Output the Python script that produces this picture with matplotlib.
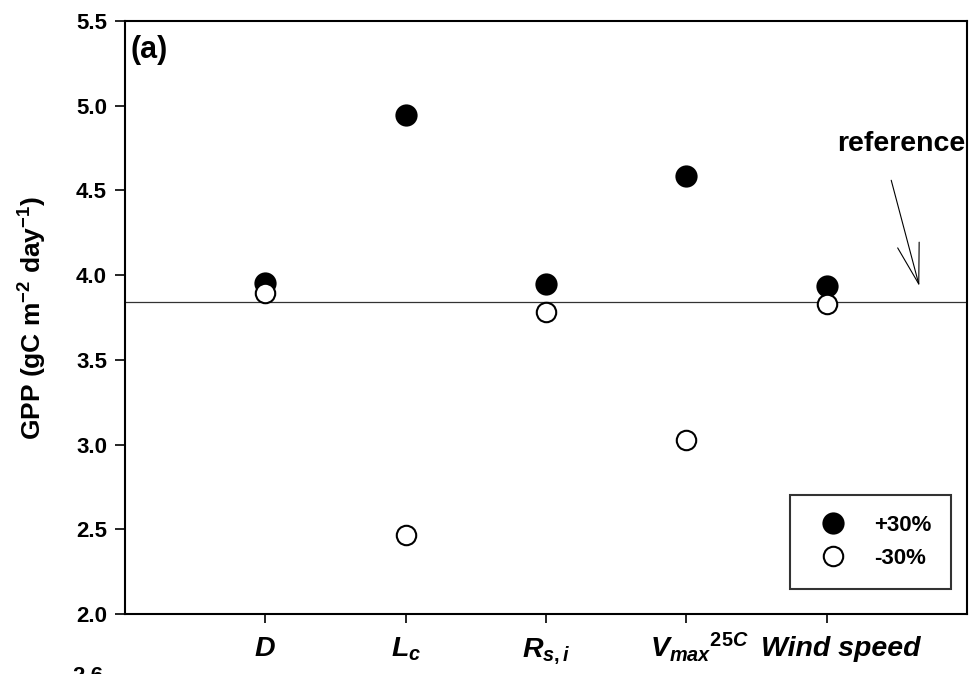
import numpy as np
import matplotlib
matplotlib.use('Agg')
import matplotlib.pyplot as plt
from matplotlib.transforms import ScaledTranslation

plt.rcParams['font.family'] = ['Liberation Sans', 'DejaVu Sans']
plt.rcParams['font.weight'] = 'bold'
plt.rcParams['mathtext.fontset'] = 'custom'
plt.rcParams['mathtext.rm'] = 'Liberation Sans:bold'
plt.rcParams['mathtext.it'] = 'Liberation Sans:bold:italic'
plt.rcParams['mathtext.bf'] = 'Liberation Sans:bold'

# data
params = ['$D$', '$L_c$', '$R_{s,i}$', '$V_{max}{}^{25C}$', 'Wind speed']
xpos = [1, 2, 3, 4, 5]
gpp_plus = [3.954, 4.945, 3.948, 4.585, 3.936]
gpp_minus = [3.895, 2.466, 3.782, 3.027, 3.830]
gpp_ref = 3.843
yticks = [2.0, 2.5, 3.0, 3.5, 4.0, 4.5, 5.0, 5.5]

fig = plt.figure(figsize=(9.72, 6.74), dpi=100)
ax = fig.add_axes([125/972, 1-614/674, 842/972, 593/674])

ax.axhline(gpp_ref, color='#333333', lw=0.9, zorder=1)
ax.plot(xpos, gpp_plus, 'o', ms=14.5, mfc='black', mec='black', mew=1.5, label='+30%', zorder=3)
ax.plot(xpos, gpp_minus, 'o', ms=14, mfc='white', mec='black', mew=1.5, label='-30%', zorder=3)

ax.set_xlim(0, 6)
ax.set_ylim(2.0, 5.5)
ax.set_yticks(yticks)
ax.set_yticklabels(['%.1f' % v for v in yticks], fontsize=16, fontweight='bold')
ax.set_xticks(xpos)
ax.set_xticklabels(params, fontsize=20.5, fontweight='bold', style='italic', va='baseline')
ax.tick_params(axis='y', direction='out', length=7, width=1.2, pad=6)
ax.tick_params(axis='x', direction='out', length=6.5, width=1.2, pad=24)
for s in ax.spines.values():
    s.set_linewidth(1.5)

# the last two labels sit a bit right of their ticks in the original
shift_px = [0, 0, 0, 13, 14]
for lbl, dx in zip(ax.get_xticklabels(), shift_px):
    if dx:
        lbl.set_transform(lbl.get_transform() + ScaledTranslation(dx/100, 0, fig.dpi_scale_trans))

ax.set_ylabel('GPP (gC m$^{-2}$ day$^{-1}$)', fontsize=19, fontweight='bold')
ax.yaxis.set_label_coords(-0.09, 0.5)

ax.text(0.007, 0.977, '(a)', transform=ax.transAxes, fontsize=22, fontweight='bold', va='top', ha='left')

ax.annotate('', xy=(5.66, 3.936), xytext=(5.46, 4.56),
            arrowprops=dict(arrowstyle='->,head_length=2.9,head_width=0.8', mutation_scale=10,
                            lw=0.8, color='black', shrinkA=0, shrinkB=0))
ax.text(5.53, 4.73, 'reference', fontsize=20.5, fontweight='bold', ha='center', va='baseline')

leg = ax.legend(loc='lower right', bbox_to_anchor=(0.981, 0.042), borderaxespad=0,
                fontsize=16, frameon=True, fancybox=False, edgecolor='black',
                borderpad=0.9, labelspacing=0.55, handlelength=2.0, handletextpad=0.85,
                markerscale=1.0)
leg.get_frame().set_linewidth(1.5)

fig.text(103/972, 1-666/674, '2.6', fontsize=16, fontweight='bold', ha='right', va='top')

fig.savefig('out.png', dpi=100)
